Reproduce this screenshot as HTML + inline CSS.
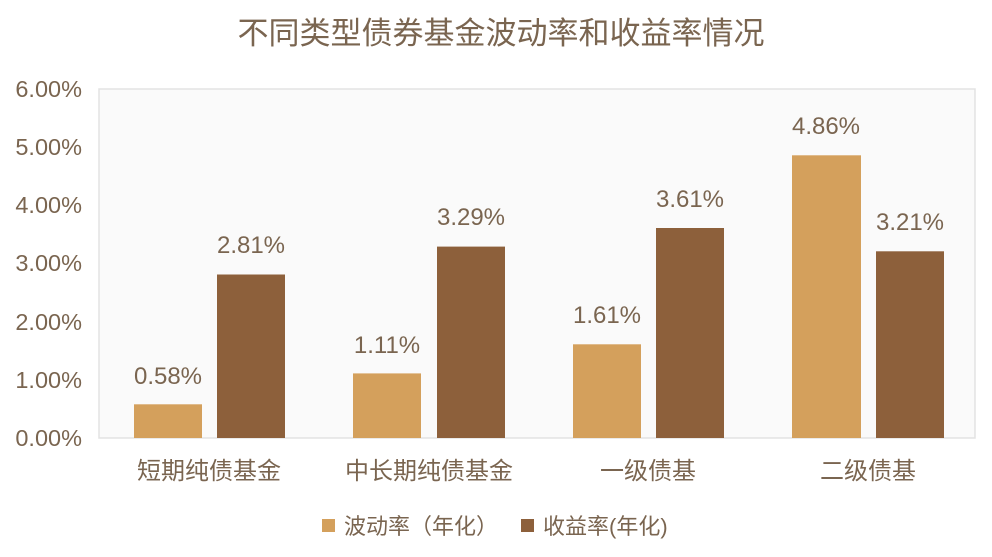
<!DOCTYPE html>
<html><head><meta charset="utf-8"><style>
body{margin:0;background:#fff}
svg text{font-family:"Liberation Sans","Noto Sans CJK SC",sans-serif;fill:#7a6550}
</style></head><body>
<svg width="992" height="552" viewBox="0 0 992 552" xmlns="http://www.w3.org/2000/svg">
<rect width="992" height="552" fill="#fff"/>
<text x="501" y="44" font-size="31" text-anchor="middle" fill="#6e5a48">不同类型债券基金波动率和收益率情况</text>
<rect x="99" y="89" width="876" height="349" fill="#fafafa" stroke="#e3e3e3" stroke-width="1.5"/>
<g font-size="23.5" text-anchor="end">
<text x="82" y="97">6.00%</text>
<text x="82" y="155">5.00%</text>
<text x="82" y="213">4.00%</text>
<text x="82" y="271">3.00%</text>
<text x="82" y="330">2.00%</text>
<text x="82" y="388">1.00%</text>
<text x="82" y="446">0.00%</text>
</g>
<g fill="#d4a05c">
<rect x="134" y="404.3" width="68" height="33.7"/>
<rect x="353" y="373.4" width="68" height="64.6"/>
<rect x="573" y="344.3" width="68" height="93.7"/>
<rect x="792" y="155.3" width="69" height="282.7"/>
</g>
<g fill="#8d603b">
<rect x="217" y="274.5" width="68" height="163.5"/>
<rect x="437" y="246.6" width="68" height="191.4"/>
<rect x="656" y="228" width="68" height="210"/>
<rect x="876" y="251.3" width="68" height="186.7"/>
</g>
<g font-size="24" text-anchor="middle">
<text x="168" y="384">0.58%</text>
<text x="251" y="253">2.81%</text>
<text x="387" y="353">1.11%</text>
<text x="471" y="225">3.29%</text>
<text x="607" y="323">1.61%</text>
<text x="690" y="207">3.61%</text>
<text x="826" y="134">4.86%</text>
<text x="910" y="230">3.21%</text>
</g>
<g font-size="24" text-anchor="middle">
<text x="209" y="479">短期纯债基金</text>
<text x="429" y="479">中长期纯债基金</text>
<text x="648" y="479">一级债基</text>
<text x="868" y="479">二级债基</text>
</g>
<rect x="322" y="519" width="13" height="13" fill="#d4a05c"/>
<text x="344" y="534" font-size="22">波动率（年化）</text>
<rect x="521" y="519" width="13" height="13" fill="#8d603b"/>
<text x="543" y="534" font-size="22">收益率(年化)</text>
</svg>
</body></html>
